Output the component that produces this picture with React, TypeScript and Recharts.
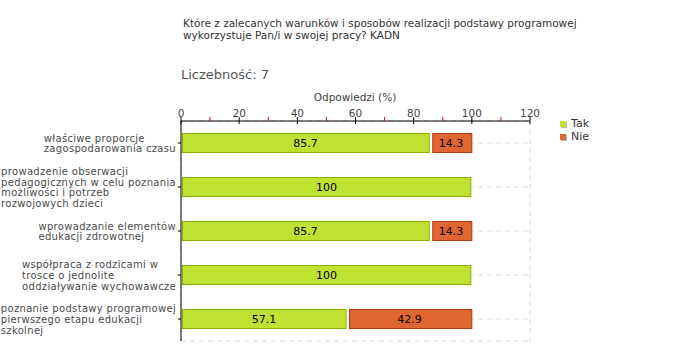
import React from 'react'
import {
  BarChart,
  Bar,
  XAxis,
  YAxis,
  CartesianGrid,
  LabelList,
} from 'recharts'

const categories = [
  'właściwe proporcje\nzagospodarowania czasu',
  'prowadzenie obserwacji\npedagogicznych w celu poznania\nmożliwości i potrzeb\nrozwojowych dzieci',
  'wprowadzanie elementów\nedukacji zdrowotnej',
  'współpraca z rodzicami w\ntrosce o jednolite\noddziaływanie wychowawcze',
  'poznanie podstawy programowej\npierwszego etapu edukacji\nszkolnej',
]
const takValues = [85.7, 100, 85.7, 100, 57.1]
const nieValues = [14.3, 0, 14.3, 0, 42.9]
const majorTicks = [0, 20, 40, 60, 80, 100, 120]
const minorTicks = [10, 30, 50, 70, 90, 110]

const FONT = '"DejaVu Sans", Verdana, sans-serif'
const GREEN = '#bee132'
const GREEN_EDGE = '#8cae00'
const RED = '#e06631'
const RED_EDGE = '#b43a12'
const LABEL_SPACING = 0.32

const chartData = categories.map((name, i) => ({
  name,
  tak: takValues[i],
  nie: nieValues[i] || null,
}))

const allTicks = [...majorTicks, ...minorTicks].sort((a, b) => a - b)

let ctx: CanvasRenderingContext2D | null = null
const textWidth = (s: string) => {
  if (!ctx) {
    ctx = document.createElement('canvas').getContext('2d')
  }
  if (!ctx) return s.length * 6
  ctx.font = `10px ${FONT}`
  return ctx.measureText(s).width + s.length * LABEL_SPACING
}

const XTick = (props: any) => {
  const { x, y, payload } = props
  const major = majorTicks.includes(payload.value)
  if (!major) {
    return <line x1={x} x2={x} y1={y - 4} y2={y} stroke="#e00000" />
  }
  return (
    <g>
      <line x1={x} x2={x} y1={y - 4} y2={y + 3} stroke="#000" />
      <text x={x} y={y - 4} textAnchor="middle" fontSize={10.5} fontFamily={FONT} fill="#444">
        {payload.value}
      </text>
    </g>
  )
}

const YTick = (props: any) => {
  const { x, y, payload } = props
  const lines = String(payload.value).split('\n')
  const maxW = Math.max(...lines.map(textWidth))
  const lh = 10.7
  const startY = y - ((lines.length - 1) * lh) / 2
  return (
    <text
      x={x - maxW}
      y={startY}
      fontSize={10}
      fontFamily={FONT}
      fill="#4a4a4a"
      letterSpacing={LABEL_SPACING}
      dominantBaseline="central"
    >
      {lines.map((l, i) => (
        <tspan key={i} x={x - maxW} y={startY + i * lh}>
          {l}
        </tspan>
      ))}
    </text>
  )
}

const makeShape = (fill: string, edge: string, left: number, right: number) => (props: any) => {
  const { x, y, width, height } = props
  if (!width || width <= 0) return <g />
  return (
    <rect
      x={x + left}
      y={y + 0.5}
      width={Math.max(0, width - left - right)}
      height={height - 1}
      fill={fill}
      stroke={edge}
    />
  )
}

export default function App() {
  return (
    <div style={{ position: 'absolute', left: 0, top: 0, width: 680, height: 360, fontFamily: FONT, background: '#fff' }}>
      <BarChart
        width={680}
        height={360}
        data={chartData}
        layout="vertical"
        margin={{ top: 0, right: 150, left: 0, bottom: 19 }}
        barSize={20}
        style={{ position: 'absolute', left: 0, top: 0 }}
      >
        <CartesianGrid stroke="#dcdcdc" strokeDasharray="5 4" xAxisId="grid" />
        <XAxis
          xAxisId="grid"
          type="number"
          orientation="top"
          domain={[0, 120]}
          ticks={majorTicks}
          hide
        />
        <XAxis
          type="number"
          orientation="top"
          domain={[0, 120]}
          ticks={allTicks}
          interval={0}
          height={121}
          tickSize={0}
          tickMargin={0}
          tickLine={false}
          axisLine={{ stroke: '#000' }}
          tick={<XTick />}
        />
        <YAxis
          type="category"
          dataKey="name"
          width={181}
          tickSize={3}
          tickMargin={2}
          tickLine={{ stroke: '#000' }}
          axisLine={{ stroke: '#000' }}
          tick={<YTick />}
          interval={0}
        />
        <Bar dataKey="tak" stackId="a" isAnimationActive={false} shape={makeShape(GREEN, GREEN_EDGE, 1.5, 1)}>
          <LabelList dataKey="tak" position="center" fill="#000" fontSize={11} fontFamily={FONT} />
        </Bar>
        <Bar dataKey="nie" stackId="a" isAnimationActive={false} shape={makeShape(RED, RED_EDGE, 2.5, 0)}>
          <LabelList dataKey="nie" position="center" fill="#000" fontSize={11} fontFamily={FONT} />
        </Bar>
      </BarChart>
      <div style={{ position: 'absolute', left: 183, top: 18, fontSize: 10.5, lineHeight: '11.5px', color: '#333' }}>
        Które z zalecanych warunków i sposobów realizacji podstawy programowej
        <br />
        wykorzystuje Pan/i w swojej pracy? KADN
      </div>
      <div style={{ position: 'absolute', left: 181, top: 67, fontSize: 13, color: '#555' }}>
        Liczebność: 7
      </div>
      <div style={{ position: 'absolute', left: 305, width: 100, textAlign: 'center', top: 91, fontSize: 10.5, color: '#444' }}>
        Odpowiedzi (%)
      </div>
      <div style={{ position: 'absolute', left: 560, top: 117, fontSize: 11, lineHeight: '13px', color: '#333' }}>
        <div style={{ display: 'flex', alignItems: 'center' }}>
          <span style={{ width: 6, height: 6, background: GREEN, marginRight: 5, boxShadow: '1px 1px 0 #bbb' }} />
          Tak
        </div>
        <div style={{ display: 'flex', alignItems: 'center' }}>
          <span style={{ width: 6, height: 6, background: RED, marginRight: 5, boxShadow: '1px 1px 0 #bbb' }} />
          Nie
        </div>
      </div>
    </div>
  )
}
